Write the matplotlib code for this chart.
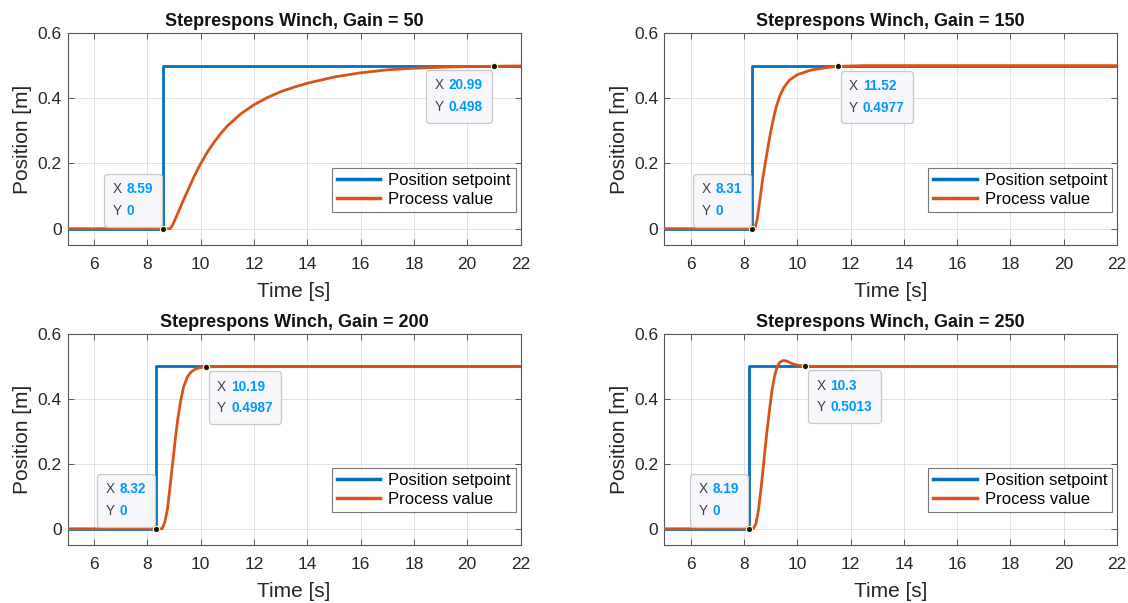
import matplotlib
matplotlib.use("Agg")
import matplotlib.pyplot as plt
from matplotlib.offsetbox import TextArea, HPacker, VPacker, AnnotationBbox

plt.rcParams['font.family'] = ['Liberation Sans', 'DejaVu Sans']

# ---------------- data ----------------
gains = [50, 150, 200, 250]
step_times = [8.59, 8.31, 8.32, 8.19]
setpoint_level = 0.5

t50 = [0, 8.85, 8.95, 9.1, 9.3, 9.5, 9.75, 10.0, 10.25, 10.5, 10.75, 11.0, 11.5, 12.0,
       12.5, 13.0, 13.5, 14.0, 15.0, 16.0, 17.0, 18.0, 19.0, 20.0, 20.99, 22.0]
pv50 = [0, 0, 0.012, 0.04, 0.078, 0.115, 0.16, 0.2, 0.235, 0.265, 0.292, 0.315, 0.352, 0.38,
        0.402, 0.42, 0.434, 0.446, 0.465, 0.478, 0.487, 0.492, 0.495, 0.497, 0.498, 0.499]

t150 = [0, 8.41, 8.5, 8.6, 8.7, 8.8, 8.9, 9.0, 9.1, 9.2, 9.35, 9.5, 9.7, 10.0, 10.5, 11.0, 11.52, 12.5, 22]
pv150 = [0, 0, 0.03, 0.09, 0.15, 0.2, 0.25, 0.295, 0.335, 0.37, 0.408, 0.433, 0.455, 0.472,
         0.486, 0.493, 0.4977, 0.5, 0.5]

t200 = [0, 8.55, 8.65, 8.75, 8.85, 8.95, 9.05, 9.15, 9.25, 9.35, 9.5, 9.65, 9.8, 10.0, 10.19, 11.0, 22]
pv200 = [0, 0, 0.02, 0.06, 0.13, 0.205, 0.28, 0.345, 0.395, 0.435, 0.468, 0.484, 0.492, 0.497,
         0.4987, 0.5, 0.5]

t250 = [0, 8.35, 8.45, 8.55, 8.65, 8.75, 8.85, 8.95, 9.05, 9.15, 9.25, 9.35, 9.45, 9.55, 9.65,
        9.8, 10.0, 10.3, 10.8, 22]
pv250 = [0, 0, 0.015, 0.06, 0.13, 0.21, 0.29, 0.36, 0.425, 0.47, 0.5, 0.513, 0.518, 0.518, 0.515,
         0.509, 0.504, 0.5013, 0.5, 0.5]

process_t = [t50, t150, t200, t250]
process_v = [pv50, pv150, pv200, pv250]

# data tips
tip_start_x = [8.59, 8.31, 8.32, 8.19]
tip_start_y = [0, 0, 0, 0]
tip_start_xlab = ["8.59", "8.31", "8.32", "8.19"]
tip_start_ylab = ["0", "0", "0", "0"]
tip_end_x = [20.99, 11.52, 10.19, 10.3]
tip_end_y = [0.498, 0.4977, 0.4987, 0.5013]
tip_end_xlab = ["20.99", "11.52", "10.19", "10.3"]
tip_end_ylab = ["0.498", "0.4977", "0.4987", "0.5013"]

x_ticks = [6, 8, 10, 12, 14, 16, 18, 20, 22]
y_ticks = [0, 0.2, 0.4, 0.6]
y_tick_labels = ["0", "0.2", "0.4", "0.6"]
legend_labels = ["Position setpoint", "Process value"]

# ---------------- style ----------------
BLUE = "#0072BD"
ORANGE = "#D95319"
DARK = "#262626"
TIPBLUE = "#0099FF"

W, H = 1128, 603
fig = plt.figure(figsize=(W / 100, H / 100), dpi=100)

positions = [
    (67.5, 33, 453, 212),
    (664, 33, 453, 212),
    (67.5, 334, 453, 211),
    (664, 334, 453, 211),
]


def datatip(ax, x, y, xl, yl, align, off):
    fs = 9.8
    r1 = HPacker(children=[TextArea("X", textprops=dict(color="#404040", fontsize=fs)),
                           TextArea(xl, textprops=dict(color=TIPBLUE, fontsize=fs, fontweight="bold"))],
                 align="baseline", pad=0, sep=3.5)
    r2 = HPacker(children=[TextArea("Y", textprops=dict(color="#404040", fontsize=fs)),
                           TextArea(yl, textprops=dict(color=TIPBLUE, fontsize=fs, fontweight="bold"))],
                 align="baseline", pad=0, sep=3.5)
    box = VPacker(children=[r1, r2], align="left", pad=6.2, sep=5.5)
    ab = AnnotationBbox(box, (x, y), xybox=off, xycoords="data", boxcoords="offset points",
                        box_alignment=align, pad=0, frameon=True,
                        bboxprops=dict(boxstyle="round,pad=0,rounding_size=0.25",
                                       fc="#f7f7fb", ec="#c8c8c8", lw=0.9))
    ab.set_zorder(6)
    ax.add_artist(ab)
    ax.plot([x], [y], marker="o", ms=4.5, mfc="#111111", mec="#fffbd0", mew=0.8,
            zorder=7, clip_on=False)


for i in range(4):
    l, t, w, h = positions[i]
    ax = fig.add_axes([l / W, (H - t - h) / H, w / W, h / H])
    ts = step_times[i]
    ax.plot([0, ts, ts, 22], [0, 0, setpoint_level, setpoint_level], color=BLUE, lw=2.0,
            label=legend_labels[0], zorder=3)
    ax.plot(process_t[i], process_v[i], color=ORANGE, lw=2.0, label=legend_labels[1], zorder=4)

    ax.set_xlim(5, 22)
    ax.set_ylim(-0.05, 0.6)
    ax.set_xticks(x_ticks)
    ax.set_yticks(y_ticks)
    ax.set_yticklabels(y_tick_labels)
    ax.grid(True, color="#e2e2e2", lw=0.7)
    ax.set_axisbelow(True)
    ax.tick_params(direction="in", top=True, right=True, length=4, width=0.6,
                   colors="#404040", labelcolor=DARK, labelsize=12.5, pad=4)
    ax.tick_params(axis="x", pad=8.5)
    for s in ax.spines.values():
        s.set_color("#555555")
        s.set_linewidth(0.8)
    ax.set_xlabel("Time [s]", fontsize=15, color=DARK, labelpad=7)
    ax.set_ylabel("Position [m]", fontsize=15, color=DARK, labelpad=4)
    ax.set_title(f"Steprespons Winch, Gain = {gains[i]}",
                 fontsize=13, fontweight="bold", color="#111111", pad=5)

    leg = ax.legend(loc="lower right", bbox_to_anchor=(0.99, 0.155), borderaxespad=0,
                    fontsize=12, frameon=True, fancybox=False, edgecolor="#555555",
                    handlelength=2.6, handletextpad=0.5, borderpad=0.3, labelspacing=0.25)
    leg.get_frame().set_linewidth(0.8)
    for ln in leg.get_lines():
        ln.set_linewidth(2.5)
    leg.set_zorder(5)

    datatip(ax, tip_start_x[i], tip_start_y[i], tip_start_xlab[i], tip_start_ylab[i],
            (1, 0), (-1, 1.5))
    if i == 0:
        datatip(ax, tip_end_x[i], tip_end_y[i], tip_end_xlab[i], tip_end_ylab[i],
                (1, 1), (-1.5, -2.5))
    else:
        datatip(ax, tip_end_x[i], tip_end_y[i], tip_end_xlab[i], tip_end_ylab[i],
                (0, 1), (2, -3))

fig.savefig("out.png", dpi=100, facecolor="white")
